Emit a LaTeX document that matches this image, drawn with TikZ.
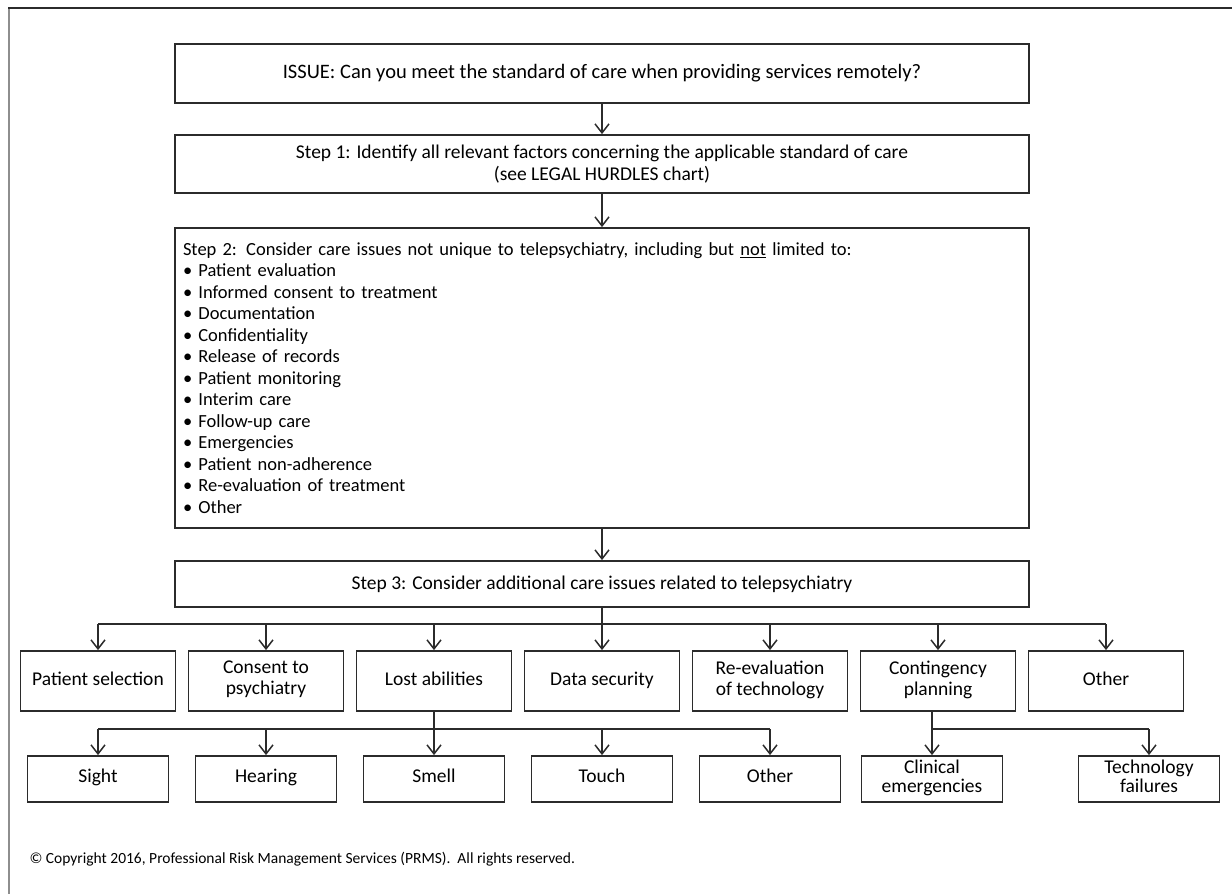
\documentclass[tikz,border=0pt]{standalone}
\usepackage{fontspec}
\setmainfont{Carlito}
\usetikzlibrary{arrows.meta}
\definecolor{ink}{HTML}{2B2B2B}
\definecolor{framegray}{HTML}{8E8E8E}

\begin{document}
\begin{tikzpicture}[x=1pt,y=-1pt,font=\fontsize{19.5}{21.5}\selectfont,
  mainbox/.style={draw=ink,line width=1.8pt,minimum width=854pt,inner sep=0pt},
  catbox/.style={draw=ink,line width=1.8pt,minimum width=155pt,minimum height=60pt,inner sep=0pt,align=center,
    font=\fontsize{19.5}{21}\selectfont,execute at begin node=\strut,execute at end node=\strut},
  subbox/.style={catbox,minimum width=141pt,minimum height=46pt,font=\fontsize{19.5}{19}\selectfont},
  conn/.style={draw=ink,line width=1.5pt},
  arr/.style={conn,-{Straight Barb[length=9pt,width=14pt,line width=1.5pt]}}]

  \useasboundingbox (0,0) rectangle (1232,894);
  % frame
  \draw[framegray,line width=2pt] (9,8) -- (9,894);
  \draw[ink,line width=2pt] (8,8) -- (1232,8);

  % main steps
  \node[mainbox,minimum height=59pt,font=\fontsize{20.5}{22}\selectfont] (issue) at (602,73.5)
    {ISSUE: Can you meet the standard of care when providing services remotely?};
  \node[mainbox,minimum height=58pt,align=center] (idfy) at (602,164)
    {Step 1: Identify all relevant factors concerning the applicable standard of care\\(see LEGAL HURDLES chart)};
  \node[mainbox,minimum height=300pt,text width=838pt,align=left,font=\fontsize{18.5}{21.5}\selectfont] (nonunique) at (602,378)
    {Step 2: Consider care issues not unique to telepsychiatry, including but \underline{not} limited to:\\
     \textbullet\ Patient evaluation\\
     \textbullet\ Informed consent to treatment\\
     \textbullet\ Documentation\\
     \textbullet\ Confidentiality\\
     \textbullet\ Release of records\\
     \textbullet\ Patient monitoring\\
     \textbullet\ Interim care\\
     \textbullet\ Follow-up care\\
     \textbullet\ Emergencies\\
     \textbullet\ Patient non-adherence\\
     \textbullet\ Re-evaluation of treatment\\
     \textbullet\ Other};
  \node[mainbox,minimum height=46pt] (additional) at (602,584)
    {Step 3: Consider additional care issues related to telepsychiatry};

  % telepsychiatry issues
  \node[catbox] (psel) at (98,681) {Patient selection};
  \node[catbox] (cons) at (266,681) {Consent to\\psychiatry};
  \node[catbox] (lost) at (434,681) {Lost abilities};
  \node[catbox] (data) at (602,681) {Data security};
  \node[catbox] (reev) at (770,681) {Re-evaluation\\of technology};
  \node[catbox] (cont) at (938,681) {Contingency\\planning};
  \node[catbox] (othr) at (1106,681) {Other};

  % lost abilities
  \node[subbox] (sight) at (98,779) {Sight};
  \node[subbox] (hear) at (266,779) {Hearing};
  \node[subbox] (smell) at (434,779) {Smell};
  \node[subbox] (touch) at (602,779) {Touch};
  \node[subbox] (othab) at (770,779) {Other};

  % contingencies
  \node[subbox] (clin) at (932,779) {Clinical\\emergencies};
  \node[subbox] (tech) at (1149,779) {Technology\\failures};

  \node[anchor=west,font=\fontsize{15.5}{17}\selectfont] (copy) at (26,859)
    {\textcopyright\ Copyright 2016, Professional Risk Management Services (PRMS).\ \ All rights reserved.};

  % connectors
  \draw[arr] (issue) -- (idfy);
  \draw[arr] (idfy) -- (nonunique);
  \draw[arr] (nonunique) -- (additional);

  \coordinate (bar1) at (602,624);
  \draw[conn] (additional) -- (bar1);
  \draw[conn] (bar1 -| psel) -- (bar1 -| othr);
  \foreach \n in {psel,cons,lost,data,reev,cont,othr}
    \draw[arr] (bar1 -| \n) -- (\n);

  \coordinate (bar2) at (434,729);
  \draw[conn] (lost) -- (bar2);
  \draw[conn] (bar2 -| sight) -- (bar2 -| othab);
  \foreach \n in {sight,hear,smell,touch,othab}
    \draw[arr] (bar2 -| \n) -- (\n);

  \coordinate (bar3) at (932,729);
  \draw[arr] (cont.south -| clin) -- (clin);
  \draw[conn] (bar3) -- (bar3 -| tech);
  \draw[arr] (bar3 -| tech) -- (tech);

\end{tikzpicture}
\end{document}
